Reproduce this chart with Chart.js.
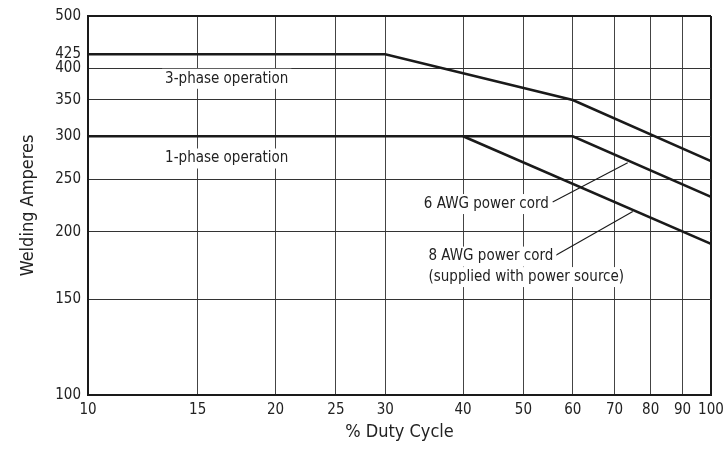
<!DOCTYPE html>
<html lang="en">
<head>
    <meta charset="UTF-8">
    <title>Duty Cycle</title>
    <script src="https://cdn.jsdelivr.net/npm/chart.js"></script>
    <style>
        html, body { margin: 0; padding: 0; background: #fff; }
        #wrap { width: 723px; height: 457px; }
    </style>
</head>
<body>
    <div id="wrap"><canvas id="dutyChart" width="723" height="457"></canvas></div>

    <script>
        const FONT = "'Liberation Sans Narrow', 'DejaVu Sans Condensed', 'Arial Narrow', sans-serif";

        // tick labels
        const xTicks = [10, 15, 20, 25, 30, 40, 50, 60, 70, 80, 90, 100];
        const yTicks = [100, 150, 200, 250, 300, 350, 400, 425, 500];

        // curves (duty % -> amps)
        const threePhaseDuty = [10, 30, 60, 100];
        const threePhaseAmps = [425, 425, 350, 270];
        const sixAwgDuty = [10, 60, 100];
        const sixAwgAmps = [300, 300, 232];
        const eightAwgDuty = [40, 100];
        const eightAwgAmps = [300, 190];

        // leader lines for the cord labels
        const leader6Duty = [55.7, 73.5];
        const leader6Amps = [227, 268];
        const leader8Duty = [55.9, 74.9];
        const leader8Amps = [180, 218];

        // text labels: [text, duty, amps, align]
        const notes = [
            ['3-phase operation', 16.7, 383, 'center'],
            ['1-phase operation', 16.7, 273, 'center'],
            ['6 AWG power cord', 54.9, 225, 'right'],
            ['8 AWG power cord', 35.2, 180, 'left'],
            ['(supplied with power source)', 35.2, 165, 'left']
        ];

        const pts = (xs, ys) => xs.map((x, i) => ({ x: x, y: ys[i] }));

        const notesPlugin = {
            id: 'notes',
            afterDatasetsDraw(chart) {
                const c = chart.ctx;
                const xs = chart.scales.x, ys = chart.scales.y;
                c.save();
                c.font = '15px ' + FONT;
                c.textBaseline = 'middle';
                notes.forEach(n => {
                    const px = xs.getPixelForValue(n[1]);
                    const py = ys.getPixelForValue(n[2]);
                    const w = c.measureText(n[0]).width;
                    let left = px;
                    if (n[3] === 'center') left = px - w / 2;
                    if (n[3] === 'right') left = px - w;
                    c.fillStyle = '#fff';
                    c.fillRect(left - 3, py - 10, w + 6, 20);
                    c.fillStyle = '#222';
                    c.textAlign = 'left';
                    c.fillText(n[0], left, py);
                });
                c.restore();
            }
        };

        const thick = { borderColor: '#1a1a1a', borderWidth: 2.6, pointRadius: 0, showLine: true, fill: false, tension: 0 };
        const thin = { borderColor: '#1a1a1a', borderWidth: 1.1, pointRadius: 0, showLine: true, fill: false, tension: 0 };

        const ctx = document.getElementById('dutyChart').getContext('2d');
        const dutyChart = new Chart(ctx, {
            type: 'scatter',
            data: {
                datasets: [
                    Object.assign({ label: '3-phase', data: pts(threePhaseDuty, threePhaseAmps) }, thick),
                    Object.assign({ label: '6 AWG', data: pts(sixAwgDuty, sixAwgAmps) }, thick),
                    Object.assign({ label: '8 AWG', data: pts(eightAwgDuty, eightAwgAmps) }, thick),
                    Object.assign({ label: 'leader 6', data: pts(leader6Duty, leader6Amps) }, thin),
                    Object.assign({ label: 'leader 8', data: pts(leader8Duty, leader8Amps) }, thin)
                ]
            },
            options: {
                responsive: false,
                animation: false,
                layout: { padding: { top: 14, right: 0, left: 0, bottom: 0 } },
                plugins: { legend: { display: false }, tooltip: { enabled: false } },
                scales: {
                    x: {
                        type: 'logarithmic',
                        min: 10, max: 100,
                        afterBuildTicks: s => { s.ticks = xTicks.map(v => ({ value: v })); },
                        afterFit: s => { s.height = 62; s.paddingRight = 12; s.paddingLeft = 0; },
                        ticks: { autoSkip: false, maxRotation: 0, padding: 6, color: '#222',
                                 font: { family: FONT, size: 15 }, callback: v => String(v) },
                        grid: {
                            drawTicks: false,
                            color: c => c.tick && c.tick.value === 100 ? '#1a1a1a' : '#444',
                            lineWidth: c => c.tick && c.tick.value === 100 ? 2 : 1
                        },
                        border: { color: '#1a1a1a', width: 2 },
                        title: { display: true, text: '% Duty Cycle', color: '#222',
                                 font: { family: FONT, size: 18 }, padding: { top: 0, bottom: 14 } }
                    },
                    y: {
                        type: 'logarithmic',
                        min: 100, max: 500,
                        afterBuildTicks: s => { s.ticks = yTicks.map(v => ({ value: v })); },
                        afterFit: s => { s.width = 88; },
                        ticks: { autoSkip: false, padding: 7, color: '#222',
                                 font: { family: FONT, size: 15 }, callback: v => String(v) },
                        grid: {
                            drawTicks: false,
                            color: c => {
                                if (!c.tick) return '#444';
                                if (c.tick.value === 500) return '#1a1a1a';
                                if (c.tick.value === 425) return 'rgba(0,0,0,0)';
                                return '#333';
                            },
                            lineWidth: c => c.tick && c.tick.value === 500 ? 2 : 1
                        },
                        border: { color: '#1a1a1a', width: 2 },
                        title: { display: true, text: 'Welding Amperes', color: '#222',
                                 font: { family: FONT, size: 18 }, padding: { top: 18, bottom: 0 } }
                    }
                }
            },
            plugins: [notesPlugin]
        });
    </script>
</body>
</html>
